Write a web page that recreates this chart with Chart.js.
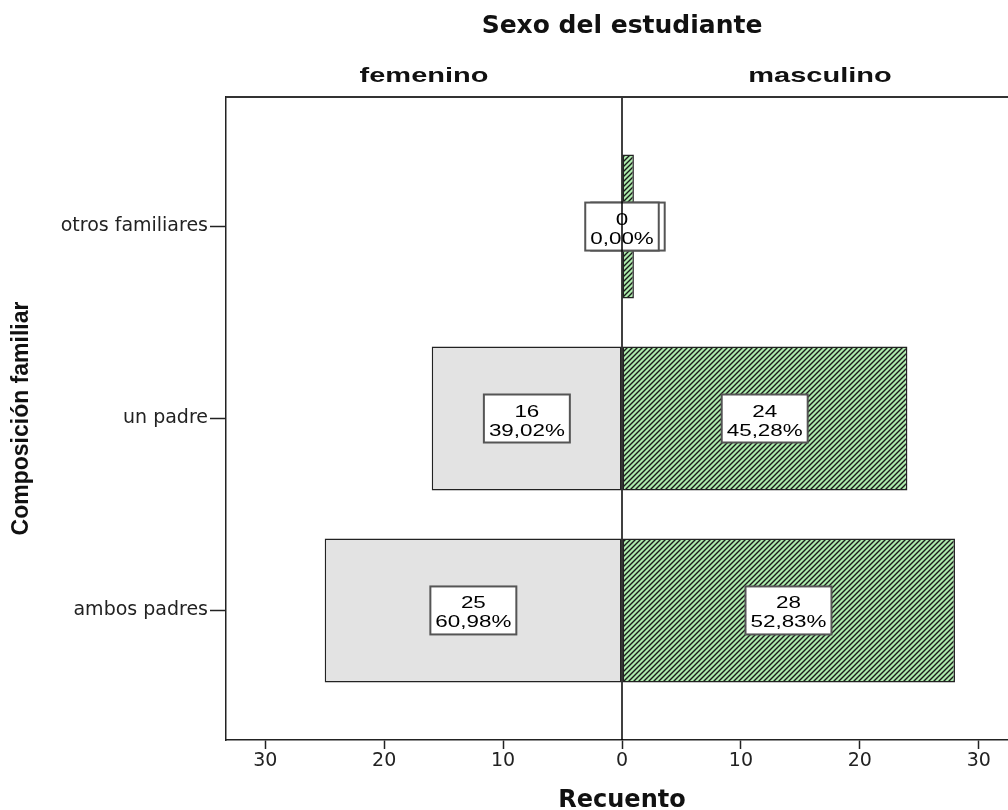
<!DOCTYPE html>
<html>
<head>
<meta charset="utf-8">
<script src="https://cdn.jsdelivr.net/npm/chart.js@4.4.0/dist/chart.umd.min.js"></script>
<style>
  html, body { margin: 0; padding: 0; background: #fff; overflow: hidden; }
  #wrap { width: 1020px; height: 810px; }
</style>
</head>
<body>
<div id="wrap"><canvas id="myChart" width="1020" height="810"></canvas></div>
<script>
// data (top to bottom)
const categories = ['otros familiares', 'un padre', 'ambos padres'];
const femenino = [0, 16, 25];
const masculino = [1, 24, 28];
const seriesNames = ['femenino', 'masculino'];
const xTicks = [-30, -20, -10, 0, 10, 20, 30];
const xLimit = 33.3;

const pct = (v, arr) => {
    const total = arr.reduce((s, n) => s + n, 0);
    return (v / total * 100).toFixed(2).replace('.', ',') + '%';
};

// green hatch for masculino
const canvas = document.getElementById('myChart');
const hatch = (() => {
    const c = document.createElement('canvas');
    c.width = 5; c.height = 5;
    const g = c.getContext('2d');
    g.fillStyle = '#acebac';
    g.fillRect(0, 0, 5, 5);
    g.strokeStyle = '#1a1a1a';
    g.lineWidth = 1.4;
    g.beginPath();
    g.moveTo(-1, 6); g.lineTo(6, -1);
    g.moveTo(-1, 1); g.lineTo(1, -1);
    g.moveTo(4, 6); g.lineTo(6, 4);
    g.stroke();
    return canvas.getContext('2d').createPattern(c, 'repeat');
})();

function drawBox(ctx, cx, cy, lines) {
    const sx = 1.4;
    ctx.font = '16px "Liberation Sans", Arial, sans-serif';
    const w = Math.max(...lines.map(t => ctx.measureText(t).width)) * sx + 10;
    const h = 48;
    ctx.fillStyle = '#fff';
    ctx.fillRect(cx - w / 2, cy - h / 2, w, h);
    ctx.strokeStyle = '#555';
    ctx.lineWidth = 2;
    ctx.strokeRect(cx - w / 2, cy - h / 2, w, h);
    ctx.fillStyle = '#000';
    ctx.textAlign = 'center';
    ctx.textBaseline = 'alphabetic';
    lines.forEach((t, i) => {
        ctx.save();
        ctx.translate(cx, cy - 2 + i * 19);
        ctx.scale(sx, 1);
        ctx.fillText(t, 0, 0);
        ctx.restore();
    });
}

// labels, zero line, frame and headers
const pyramidDecor = {
    id: 'pyramidDecor',
    afterDatasetsDraw(chart) {
        const {ctx, chartArea: a, scales: {x, y}} = chart;
        ctx.save();
        // masculino first so femenino boxes sit on top
        masculino.forEach((v, i) => {
            drawBox(ctx, x.getPixelForValue(v / 2), y.getPixelForValue(i + 1), [String(v), pct(v, masculino)]);
        });
        femenino.forEach((v, i) => {
            drawBox(ctx, x.getPixelForValue(-v / 2), y.getPixelForValue(i + 1), [String(v), pct(v, femenino)]);
        });
        // zero line
        const x0 = x.getPixelForValue(0);
        ctx.strokeStyle = '#000';
        ctx.lineWidth = 1.5;
        ctx.beginPath();
        ctx.moveTo(x0, a.top);
        ctx.lineTo(x0, a.bottom);
        ctx.stroke();
        // top + right frame
        ctx.strokeStyle = '#333';
        ctx.lineWidth = 2;
        ctx.beginPath();
        ctx.moveTo(a.left, a.top);
        ctx.lineTo(a.right, a.top);
        ctx.lineTo(a.right, a.bottom);
        ctx.stroke();
        ctx.restore();
    },
    afterDraw(chart) {
        const {ctx, scales: {x}} = chart;
        ctx.save();
        ctx.fillStyle = '#111';
        ctx.textAlign = 'center';
        ctx.textBaseline = 'alphabetic';
        ctx.font = 'bold 25px "DejaVu Sans", sans-serif';
        ctx.fillText('Sexo del estudiante', x.getPixelForValue(0), 33);
        ctx.font = 'bold 21px "Liberation Sans", Arial, sans-serif';
        [-xLimit / 2, xLimit / 2].forEach((v, i) => {
            ctx.save();
            ctx.translate(x.getPixelForValue(v), 82);
            ctx.scale(1.38, 1);
            ctx.fillText(seriesNames[i], 0, 0);
            ctx.restore();
        });
        ctx.restore();
    }
};

const data = {
    datasets: [{
        label: seriesNames[0],
        data: femenino.map((v, i) => ({x: -v, y: i + 1})),
        backgroundColor: '#e3e3e3',
        borderColor: '#222',
        borderWidth: 1.5,
        borderSkipped: false,
        grouped: false,
        barPercentage: 0.75,
        categoryPercentage: 1
    }, {
        label: seriesNames[1],
        data: masculino.map((v, i) => ({x: v, y: i + 1})),
        backgroundColor: hatch,
        borderColor: '#222',
        borderWidth: 1.5,
        borderSkipped: false,
        grouped: false,
        barPercentage: 0.75,
        categoryPercentage: 1
    }]
};

const config = {
    type: 'bar',
    data: data,
    options: {
        indexAxis: 'y',
        responsive: false,
        animation: false,
        layout: { padding: { top: 97, right: 2, left: 0, bottom: 0 } },
        scales: {
            x: {
                type: 'linear',
                min: -xLimit,
                max: xLimit,
                offset: false,
                afterBuildTicks: s => { s.ticks = xTicks.map(v => ({value: v})); },
                afterFit: s => { s.height = 70; },
                ticks: {
                    callback: v => Math.abs(v),
                    font: { family: 'DejaVu Sans', size: 19 },
                    color: '#222',
                    padding: 1,
                    maxRotation: 0
                },
                grid: { drawOnChartArea: false, offset: false, tickLength: 9, color: '#222', tickWidth: 1.5 },
                border: { color: '#222', width: 1.5 },
                title: {
                    display: true,
                    text: 'Recuento',
                    font: { family: 'DejaVu Sans', weight: 'bold', size: 24, lineHeight: 1 },
                    color: '#111',
                    padding: { top: 0, bottom: -3 }
                }
            },
            y: {
                type: 'linear',
                reverse: true,
                min: 0.325,
                max: 3.675,
                offset: false,
                afterBuildTicks: s => { s.ticks = categories.map((c, i) => ({value: i + 1})); },
                afterFit: s => { s.width = 226; },
                ticks: {
                    callback: v => categories[Math.round(v) - 1],
                    font: { family: 'DejaVu Sans', size: 19 },
                    color: '#222',
                    padding: 2
                },
                grid: { drawOnChartArea: false, offset: false, tickLength: 16, color: '#222', tickWidth: 1.5 },
                border: { color: '#222', width: 1.5 },
                title: {
                    display: true,
                    text: 'Composición familiar',
                    font: { family: 'Liberation Sans', weight: 'bold', size: 23 },
                    color: '#111',
                    padding: { top: 8, bottom: 0 }
                }
            }
        },
        plugins: {
            legend: { display: false },
            tooltip: { enabled: false }
        }
    },
    plugins: [pyramidDecor]
};

const myChart = new Chart(canvas, config);
</script>
</body>
</html>
